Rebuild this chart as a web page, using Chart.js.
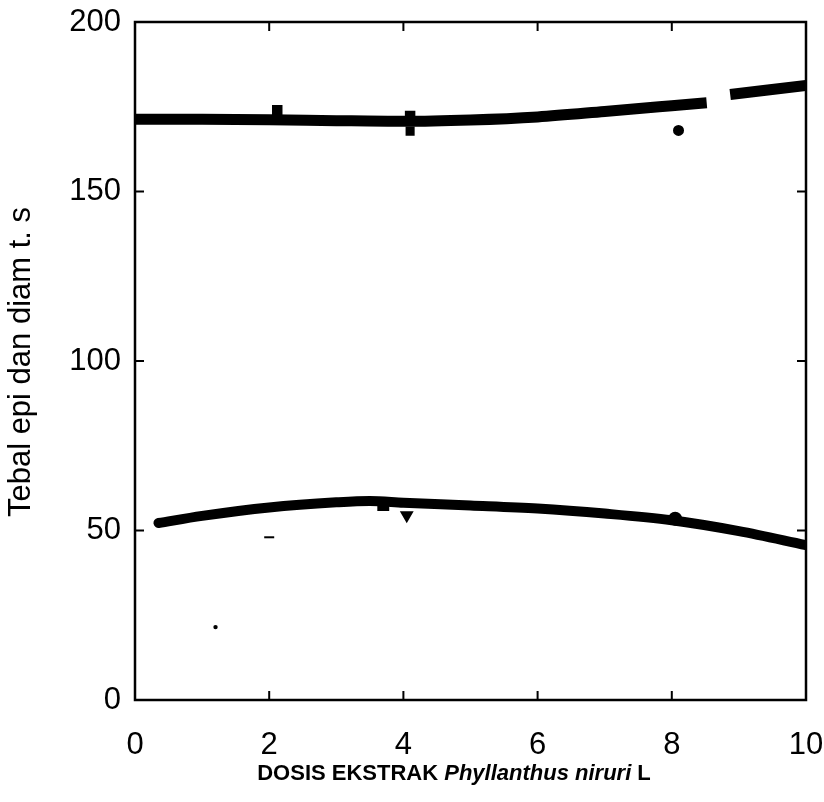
<!DOCTYPE html>
<html>
<head>
<meta charset="utf-8">
<script src="https://cdn.jsdelivr.net/npm/chart.js@4"></script>
<style>
  body { margin: 0; background: #fff; }
  canvas { display: block; }
</style>
</head>
<body>
<canvas id="grafik" width="824" height="802"></canvas>
<script>
// data
const dosisAtas = [0, 1, 2, 3, 4, 5, 6, 7, 8, 8.52, 8.7, 8.87, 10];
const tebalAtas = [171.3, 171.3, 171.2, 170.9, 170.7, 171.1, 172, 173.6, 175.3, 176.2, null, 178.6, 181.3];

const dosisBawah = [0.35, 1, 2, 3, 3.5, 4, 5, 6, 7, 8, 9, 10];
const tebalBawah = [52.2, 54.3, 56.8, 58.3, 58.7, 58.2, 57.4, 56.5, 55, 53, 49.8, 45.7];

const titikX = [2.12, 4.1, 4.1, 8.1, 3.7, 4.05, 8.05, 2.0, 1.2];
const titikY = [174, 172.3, 167.8, 168, 57.5, 54.5, 53.5, 48, 21.5];
const titikBentuk = ['rect', 'rect', 'rect', 'circle', 'rect', 'triangle', 'circle', 'line', 'circle'];
const titikUkuran = [6, 6, 5, 4.5, 7, 6, 6, 5, 1.2];
const titikPutar = [0, 0, 0, 0, 0, 180, 0, 0, 0];

const tickX = [0, 2, 4, 6, 8, 10];
const tickY = [0, 50, 100, 150, 200];

const judulY = 'Tebal epi dan diam t. s';
const judulXBiasa = 'DOSIS EKSTRAK ';
const judulXMiring = 'Phyllanthus niruri';
const judulXAkhir = ' L';

const toXY = (xs, ys) => xs.map((x, i) => ({ x: x, y: ys[i] }));

// kotak, tick ke dalam dan judul sumbu
const bingkai = {
    id: 'bingkai',
    afterDraw(chart) {
        const { ctx, chartArea: a, scales } = chart;
        ctx.save();
        ctx.strokeStyle = '#000';
        ctx.lineWidth = 2.5;
        ctx.strokeRect(a.left, a.top, a.right - a.left, a.bottom - a.top);

        ctx.lineWidth = 2;
        const len = 9;
        tickX.slice(1, -1).forEach(v => {
            const px = scales.x.getPixelForValue(v);
            ctx.beginPath();
            ctx.moveTo(px, a.bottom); ctx.lineTo(px, a.bottom - len);
            ctx.moveTo(px, a.top); ctx.lineTo(px, a.top + len);
            ctx.stroke();
        });
        tickY.slice(1, -1).forEach(v => {
            const py = scales.y.getPixelForValue(v);
            ctx.beginPath();
            ctx.moveTo(a.left, py); ctx.lineTo(a.left + len, py);
            ctx.moveTo(a.right, py); ctx.lineTo(a.right - len, py);
            ctx.stroke();
        });

        ctx.fillStyle = '#000';
        // judul sumbu Y
        ctx.save();
        ctx.translate(21, 362);
        ctx.rotate(-Math.PI / 2);
        ctx.font = '31px "Liberation Sans", Arial, sans-serif';
        ctx.textAlign = 'center';
        ctx.textBaseline = 'middle';
        ctx.fillText(judulY, 0, 0);
        ctx.restore();

        // judul sumbu X (campuran tegak dan miring)
        const fTegak = 'bold 22px "Liberation Sans Narrow", "Liberation Sans", Arial, sans-serif';
        const fMiring = 'italic bold 22px "Liberation Sans Narrow", "Liberation Sans", Arial, sans-serif';
        ctx.textBaseline = 'middle';
        ctx.textAlign = 'left';
        ctx.font = fTegak;
        const w1 = ctx.measureText(judulXBiasa).width;
        const w3 = ctx.measureText(judulXAkhir).width;
        ctx.font = fMiring;
        const w2 = ctx.measureText(judulXMiring).width;
        let x0 = 454 - (w1 + w2 + w3) / 2;
        const y0 = 774;
        ctx.font = fTegak;
        ctx.fillText(judulXBiasa, x0, y0);
        ctx.font = fMiring;
        ctx.fillText(judulXMiring, x0 + w1, y0);
        ctx.font = fTegak;
        ctx.fillText(judulXAkhir, x0 + w1 + w2, y0);
        ctx.restore();
    }
};

const ctxGrafik = document.getElementById('grafik').getContext('2d');

new Chart(ctxGrafik, {
    type: 'line',
    data: {
        datasets: [
            {
                label: 'Tebal atas',
                data: toXY(dosisAtas, tebalAtas),
                borderColor: '#000',
                borderWidth: 11,
                borderCapStyle: 'butt',
                pointRadius: 0,
                cubicInterpolationMode: 'monotone',
                spanGaps: false,
                fill: false
            },
            {
                label: 'Tebal bawah',
                data: toXY(dosisBawah, tebalBawah),
                borderColor: '#000',
                borderWidth: 10,
                borderCapStyle: 'round',
                pointRadius: 0,
                cubicInterpolationMode: 'monotone',
                fill: false
            },
            {
                type: 'scatter',
                label: 'Titik',
                data: toXY(titikX, titikY),
                pointStyle: titikBentuk,
                pointRadius: titikUkuran,
                pointRotation: titikPutar,
                backgroundColor: '#000',
                borderColor: '#000',
                borderWidth: 2
            }
        ]
    },
    options: {
        responsive: false,
        animation: false,
        layout: { padding: { top: 22, right: 18, left: 0, bottom: 0 } },
        plugins: {
            legend: { display: false },
            tooltip: { enabled: false }
        },
        scales: {
            x: {
                type: 'linear',
                min: 0,
                max: 10,
                afterFit: s => { s.height = 102; s.paddingLeft = 0; s.paddingRight = 0; },
                afterBuildTicks: s => { s.ticks = tickX.map(v => ({ value: v })); },
                grid: { display: false, drawTicks: false },
                border: { display: false },
                ticks: {
                    padding: 27,
                    color: '#000',
                    font: { family: '"Liberation Sans", Arial, sans-serif', size: 31 }
                }
            },
            y: {
                min: 0,
                max: 200,
                afterFit: s => { s.width = 135; s.paddingTop = 0; s.paddingBottom = 0; },
                afterBuildTicks: s => { s.ticks = tickY.map(v => ({ value: v })); },
                grid: { display: false, drawTicks: false },
                border: { display: false },
                ticks: {
                    padding: 14,
                    color: '#000',
                    font: { family: '"Liberation Sans", Arial, sans-serif', size: 31 }
                }
            }
        }
    },
    plugins: [bingkai]
});
</script>
</body>
</html>
